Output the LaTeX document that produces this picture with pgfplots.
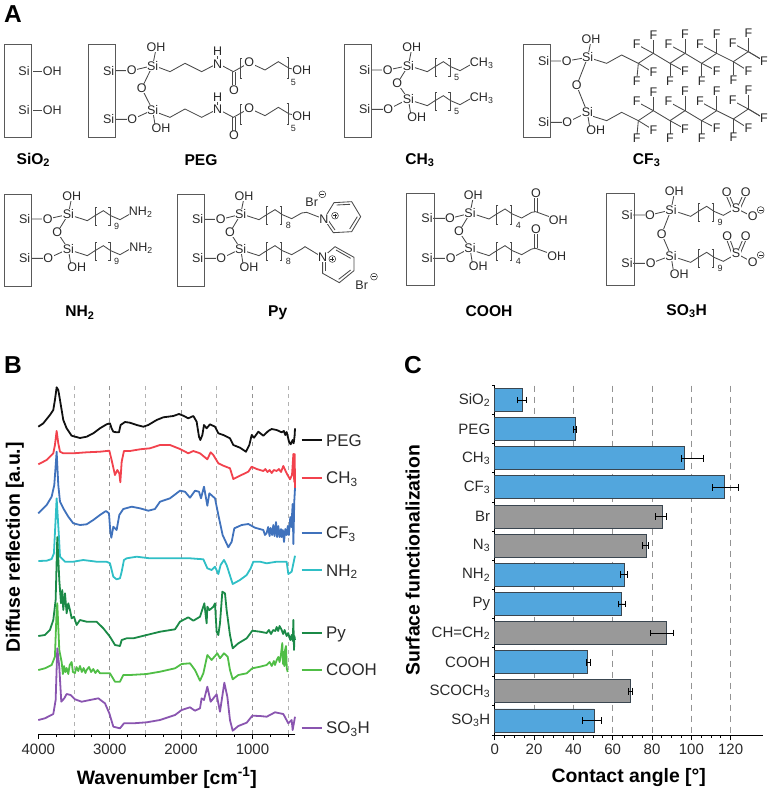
\documentclass[border=0pt]{standalone}
\usepackage{fontspec}
\setmainfont{Liberation Sans}
\usepackage{pgfplots}
\pgfplotsset{compat=1.18}
\definecolor{cPEG}{HTML}{111111}
\definecolor{cCH}{HTML}{F2424D}
\definecolor{cCF}{HTML}{4072BC}
\definecolor{cNH}{HTML}{2FBFC6}
\definecolor{cPy}{HTML}{1B8A47}
\definecolor{cCOOH}{HTML}{50BE46}
\definecolor{cSO}{HTML}{8A55B0}
\definecolor{barblue}{HTML}{52A6DD}
\definecolor{bargray}{HTML}{999999}
\definecolor{baredge}{HTML}{3A4650}
\definecolor{ink}{HTML}{2A2A2A}
\newcommand{\fs}[1]{\fontsize{#1}{#1}\selectfont}
\tikzset{bd/.style={line width=0.85pt,draw=ink!85},
  atm/.style={fill=white,inner sep=0.4pt,text=ink,font=\fs{12.5}},
  lab/.style={font=\fs{15.6}\bfseries,text=black},
  boxs/.style={line width=1pt,draw=black!65}}
\def\boxtop{135}
\newcommand{\SBox}[1]{\draw[boxs] (#1,\boxtop) rectangle (#1+82,\boxtop+277);}
\newcommand{\core}[9]{%
 \draw[bd] (#1+61,#2)--(#1+130,#2)--(#4,#5)--(#6,#7)--(#8,#9)--(#1+132,#3)--(#1+61,#3);
 \draw[bd] (#4,#5)--(#4+10,#5-50);
 \draw[bd] (#8,#9)--(#8+8,#9+50);
 \node[atm] at (#1+61,#2) {Si};
 \node[atm] at (#1+61,#3) {Si};
 \node[atm] at (#1+130,#2) {O};
 \node[atm] at (#1+132,#3) {O};
 \node[atm] at (#4,#5) {Si};
 \node[atm] at (#8,#9) {Si};
 \node[atm] at (#6,#7) {O};
 \node[atm] at (#4+10,#5-55) {OH};
 \node[atm] at (#8+25,#9+55) {OH};
 \SBox{#1}}
\newcommand{\brk}[4]{\draw[bd] (#1+#4,#2)--(#1,#2)--(#1,#3)--(#1+#4,#3);}
\newcommand{\alk}[3]{%
 \draw[bd] (#1,#2)--++(37,12)--++(23,-15)--++(25,-15)--++(22,15)--++(28,12)--++(30,-17);
 \brk{#1+60}{#2-28}{#2+27}{5}
 \brk{#1+105}{#2-28}{#2+27}{-5}
 \node[font=\fs{9},text=ink,inner sep=0pt] at (#1+125,#2+30) {#3};}
\newcommand{\chg}[3]{%
 \draw[line width=0.5pt,draw=ink] (#1,#2) circle [radius=3.4pt];
 \draw[line width=0.5pt,draw=ink] (#1-6,#2)--(#1+6,#2);
 \ifnum#3=1 \draw[line width=0.5pt,draw=ink] (#1,#2-6)--(#1,#2+6);\fi}
\newcommand{\dbl}[4]{\draw[bd] (#1-5,#2)--(#3-5,#4); \draw[bd] (#1+5,#2)--(#3+5,#4);}
\newcommand{\pegchain}[1]{\begin{scope}[shift={(0,#1)}]
 \draw[bd] (470,200)--(510,215)--(555,190)--(605,215)--(653,190)--(700,215)--(748,188)--(795,210)--(835,185)--(868,205)--(905,212);
 \draw[bd] (653,190)--(653,155);
 \dbl{701}{215}{701}{270}
 \brk{722}{175}{235}{5}
 \brk{865}{172}{235}{-5}
 \node[atm] at (653,192) {N};
 \node[atm] at (653,155) {H};
 \node[atm] at (702,270) {O};
 \node[atm] at (748,188) {O};
 \node[atm] at (905,212) {OH};
 \node[font=\fs{9},text=ink,inner sep=0pt] at (880,248) {5};
 \end{scope}}
\newcommand{\cfc}[1]{\begin{scope}[shift={(0,#1)}]
 \draw[bd] (743,172)--(800,190)--(845,165)--(895,190)--(940,160)--(990,190)--(1035,160)--(1085,190)--(1130,160)--(1180,185)--(1225,155)--(1272,183);
 \foreach \cx/\cy/\fx/\fy in {895/190/890/243,895/190/940/218,940/160/940/105,940/160/890/133,990/190/990/243,990/190/1035/215,1035/160/1035/103,1035/160/985/133,1085/190/1085/243,1085/190/1130/213,1130/160/1130/103,1130/160/1080/133,1180/185/1180/240,1180/185/1225/213,1225/155/1225/100,1225/155/1178/130,1225/155/1272/183}{%
  \draw[bd] (\cx,\cy)--(\fx,\fy); \node[atm] at (\fx,\fy) {F};}
 \end{scope}}
\begin{document}
\begin{tikzpicture}
\useasboundingbox (0pt,0pt) rectangle (772pt,-792pt);
% ---------- panel letters
\begin{scope}[x=1pt,y=-1pt]
 \foreach \ltr/\xx/\yy in {A/4/23,B/4/373,C/404/373}{\node[anchor=base west,inner sep=0pt,font=\fs{24.5}\bfseries] at (\xx,\yy) {\ltr};}
\end{scope}
% ---------- panel A, first row left
\begin{scope}[x=0.33333pt,y=-0.33333pt]
 \draw[bd] (100,213)--(125,213); \draw[bd] (100,330)--(125,330);
 \node[atm] at (72,213) {Si}; \node[atm] at (72,330) {Si};
 \node[atm] at (157,213) {OH}; \node[atm] at (157,330) {OH};
 \SBox{13}
 \node[lab] at (100,480) {SiO\textsubscript{2}};
 \pegchain{0}\pegchain{137}
 \core{265}{212}{358}{458}{197}{425}{265}{458}{330}
 \node[lab] at (603,480) {PEG};
\end{scope}
% ---------- first row right
\begin{scope}[shift={(340pt,0pt)},x=0.33333pt,y=-0.33333pt]
 \alk{225}{203}{5}\alk{225}{305}{5}
 \node[atm] at (425,190) {CH\textsubscript{3}};
 \node[atm] at (425,295) {CH\textsubscript{3}};
 \core{13}{210}{328}{205}{197}{172}{250}{205}{297}
 \node[lab] at (240,480) {CH\textsubscript{3}};
 \cfc{0}\cfc{172}
 \core{550}{183}{367}{743}{172}{710}{257}{742}{337}
 \node[lab] at (920,480) {CF\textsubscript{3}};
\end{scope}
% ---------- second row left
\begin{scope}[shift={(0pt,-180pt)},x=0.33333pt,y=-0.33333pt]
 \def\boxtop{42}
 \alk{225}{110}{9}\alk{225}{215}{9}
 \node[atm] at (422,97) {NH\textsubscript{2}};
 \node[atm] at (423,205) {NH\textsubscript{2}};
 \core{13}{117}{235}{205}{103}{172}{157}{205}{207}
 \node[lab] at (240,397) {NH\textsubscript{2}};
 \alk{740}{107}{8}\alk{740}{215}{8}
 \draw[bd] (905,99)--(920,97)--(972,117);
 \draw[bd] (905,207)--(915,200)--(968,232);
 \draw[bd] (972,117)--(1002,68)--(1055,65)--(1082,110)--(1055,155)--(1000,158)--cycle;
 \draw[bd] (1010,75)--(1050,73); \draw[bd] (1072,110)--(1049,147); \draw[bd] (1005,150)--(982,117);
 \draw[bd] (968,232)--(1005,200)--(1062,232)--(1062,272)--(1018,308)--(968,280)--cycle;
 \draw[bd] (1008,210)--(1052,235); \draw[bd] (1052,270)--(1016,298); \draw[bd] (977,273)--(977,245);
 \node[atm] at (972,117) {N}; \node[atm] at (968,232) {N};
 \chg{1005}{107}{1}\chg{997}{237}{1}
 \node[atm,fill=none] at (935,67) {Br}; \chg{967}{43}{0}
 \node[atm,fill=none] at (1085,315) {Br}; \chg{1122}{290}{0}
 \core{532}{118}{235}{722}{103}{690}{157}{722}{207}
 \node[lab] at (833,397) {Py};
\end{scope}
% ---------- second row right
\begin{scope}[shift={(390pt,-180pt)},x=0.33333pt,y=-0.33333pt]
 \def\boxtop{40}
 \alk{260}{105}{4}\alk{260}{215}{4}
 \draw[bd] (425,97)--(437,95)--(505,120); \dbl{438}{95}{438}{40}
 \draw[bd] (425,207)--(437,205)--(500,228); \dbl{438}{205}{438}{147}
 \node[atm] at (438,40) {O}; \node[atm] at (505,120) {OH};
 \node[atm] at (438,147) {O}; \node[atm] at (500,228) {OH};
 \core{50}{115}{235}{240}{100}{207}{155}{240}{205}
 \node[lab] at (297,393) {COOH};
 \alk{865}{97}{9}\alk{865}{235}{9}
 \draw[bd] (1030,89)--(1038,85)--(1088,110); \dbl{1030}{85}{1010}{38}\dbl{1046}{85}{1067}{38}
 \draw[bd] (1030,227)--(1038,220)--(1088,247); \dbl{1030}{220}{1012}{170}\dbl{1046}{220}{1067}{170}
 \foreach \aa/\bb/\cc in {1038/85/S,1010/38/O,1067/38/O,1088/110/O,1038/220/S,1012/170/O,1067/170/O,1088/247/O}{\node[atm] at (\aa,\bb) {\cc};}
 \chg{1112}{90}{0}\chg{1112}{225}{0}
 \core{650}{105}{250}{843}{90}{815}{162}{843}{227}
 \node[lab] at (890,393) {SO\textsubscript{3}H};
\end{scope}
% ---------- panel B
\begin{axis}[at={(38.3pt,-734pt)},anchor=south west,scale only axis,width=257pt,height=349pt,
 x dir=reverse,xmin=400,xmax=4000,ymin=0,ymax=349,
 axis x line=bottom,axis y line=left,y axis line style={draw=none},
 axis line style={-,line width=0.8pt,black},ytick=\empty,
 xtick={4000,3000,2000,1000},minor xtick={3750,3500,3250,2750,2500,2250,1750,1500,1250,750,500},
 xticklabels={4000,3000,2000,1000},
 tick align=outside,major tick length=5pt,minor tick length=3pt,
 tick style={line width=0.8pt,black},
 tick label style={font=\fs{15},text=ink},
 /pgf/number format/assume math mode=true,
 xticklabel style={yshift=-1pt},
 xlabel={Wavenumber [cm\textsuperscript{-1}]},
 xlabel style={font=\fs{19.4}\bfseries,at={(axis description cs:0.5,0)},anchor=base,yshift=-50pt},
 ylabel={Diffuse reflection [a.u.]},
 ylabel style={font=\fs{19.4}\bfseries,at={(axis description cs:0,0.535)},anchor=base,yshift=18.5pt},
 unbounded coords=jump,clip=false]
\addplot[gray!60,line width=0.7pt,dash pattern=on 4pt off 4pt,forget plot] coordinates {(3500,0)(3500,349)(nan,nan)(2500,0)(2500,349)(nan,nan)(1500,0)(1500,349)(nan,nan)(500,0)(500,349)};
\addplot[gray!85,line width=0.9pt,dash pattern=on 4pt off 4pt,forget plot] coordinates {(3000,0)(3000,349)(nan,nan)(2000,0)(2000,349)(nan,nan)(1000,0)(1000,349)};
\addplot[cPEG,line width=1.8pt,line join=round] coordinates {(4000,307.3)(3930,310.7)(3837,319)(3790,324)(3767,334)(3743,346.7)(3720,344)(3696,334)(3650,314)(3603,305.7)(3533,298.3)(3416,296)(3323,297.3)(3230,300.7)(3136,305.7)(3043,309.7)(2996,310.7)(2973,305.7)(2949,302.3)(2903,301.7)(2870,301.7)(2847,309)(2786,312)(2716,311.3)(2622,309)(2529,307.3)(2459,309)(2342,314)(2249,316.7)(2109,318)(2029,320)(1969,318.3)(1899,315.7)(1828,318)(1782,312.3)(1749,297.3)(1730,294)(1702,299)(1679,309)(1642,305.7)(1595,309.7)(1525,307.3)(1478,300.7)(1408,299)(1315,295.7)(1268,289)(1175,286.3)(1091,282.3)(1044,289)(1011,299)(978,296.3)(918,302.3)(848,298.3)(778,303)(731,305)(661,304)(591,301.7)(560,303)(540,299)(521,302)(488,292.3)(465,289.7)(437,294)(423,290.7)(410,298)(404,305.7)};
\addplot[cCH,line width=1.8pt,line join=round] coordinates {(4000,269.7)(3883,274)(3790,280.7)(3767,289)(3743,303)(3720,290.7)(3696,282.3)(3650,280.7)(3510,280.7)(3323,281.7)(3136,282.3)(3005,283.3)(2973,274)(2926,259)(2893,264)(2865,260.7)(2851,251.7)(2832,272.3)(2800,283)(2716,283)(2576,284.7)(2436,285.7)(2295,289)(2155,289)(2015,285)(1899,280.7)(1828,283)(1735,280.7)(1632,274.7)(1586,281.7)(1548,279)(1478,270.7)(1408,268.3)(1315,265.7)(1268,255)(1175,258.3)(1058,262.3)(1011,267.3)(941,265)(848,263)(820,265)(790,262)(760,264)(730,261)(700,264)(661,263)(630,265)(600,262)(568,268)(521,260.7)(474,254.7)(446,259)(427,280)(415,252)(408,280)(404,246)};
\addplot[cCF,line width=1.8pt,line join=round] coordinates {(4000,220.7)(3883,229)(3813,237.3)(3776,249)(3743,282.3)(3720,249)(3696,232.3)(3650,225.7)(3580,217.3)(3510,210.7)(3416,209)(3323,209.7)(3230,214)(3136,219)(3052,223)(3010,220.7)(2991,202.3)(2977,196.3)(2949,207.3)(2903,204)(2865,219)(2809,225)(2692,227.3)(2576,225.7)(2459,223.3)(2366,225)(2295,232.3)(2155,235.7)(2015,243.3)(1945,242.3)(1875,236.3)(1805,243.3)(1749,242.3)(1721,235.7)(1679,247.3)(1632,228.3)(1604,240.7)(1525,235.7)(1478,219)(1418,199)(1338,186.7)(1291,192.3)(1254,205.7)(1151,209)(1058,210)(965,206.3)(848,204)(825,199)(801,201)(780,207)(760,198)(745,206)(725,199)(708,209)(690,198)(670,212)(655,197)(638,208)(620,197)(600,205)(591,197)(575,204)(558,192)(540,205)(521,199)(505,208)(490,199)(470,217)(455,207)(437,230)(427,190)(414,233)(404,246)};
\addplot[cNH,line width=1.8pt,line join=round] coordinates {(4000,173)(3883,173.3)(3813,175)(3781,180.7)(3743,235.7)(3715,202.3)(3696,177.3)(3626,172.3)(3510,172.3)(3370,174)(3183,172.3)(3043,172.3)(2996,170.7)(2949,157.3)(2903,154.7)(2856,155.7)(2832,162.3)(2800,174)(2762,175.7)(2622,177.3)(2436,175.7)(2202,175.7)(2015,175.7)(1875,175.7)(1688,174.7)(1632,165.7)(1572,164)(1525,167.3)(1478,160)(1446,169)(1399,174)(1362,169)(1277,150)(1175,154)(1081,159)(1025,165.7)(988,172.3)(894,172.3)(801,170.7)(661,172.3)(521,172.3)(498,160)(451,162.3)(404,178.3)};
\addplot[cPy,line width=1.8pt,line join=round] coordinates {(4000,98)(3907,99)(3837,104)(3790,114)(3757,134)(3734,197)(3706,154)(3682,130.7)(3664,144)(3650,124)(3626,140.7)(3603,120.7)(3580,130.7)(3556,124)(3533,115.7)(3500,117.3)(3463,109)(3416,114)(3323,112.3)(3183,112.3)(3089,105.7)(2996,97.3)(2926,89)(2856,88)(2832,94)(2762,95.7)(2669,95.7)(2482,99)(2295,102.3)(2085,104.7)(2015,112.3)(1899,116.7)(1828,113.3)(1735,117.3)(1674,130.7)(1642,110.7)(1632,127.3)(1604,124)(1572,125.7)(1548,127.3)(1525,130.7)(1502,102.3)(1478,99)(1455,110.7)(1422,142.3)(1385,140.7)(1362,124)(1315,99)(1277,85.7)(1198,90.7)(1081,95.7)(1002,103.3)(894,102.3)(801,101)(770,104)(740,100)(710,104)(680,103)(661,107)(640,103)(620,108)(591,104)(570,100)(550,104)(521,98)(500,101)(470,94)(451,99)(435,93)(427,114)(418,84)(412,98)(404,94)};
\addplot[cCOOH,line width=1.8pt,line join=round] coordinates {(4000,64)(3907,65.7)(3813,69)(3767,77.3)(3743,124)(3734,130.7)(3706,84)(3673,72)(3655,60)(3640,68)(3620,62)(3603,66)(3580,60)(3560,69)(3533,72)(3515,62)(3486,61)(3465,67)(3440,63)(3416,68)(3390,62)(3365,66)(3340,61)(3323,64)(3290,67)(3260,62)(3230,65)(3200,61)(3170,64)(3136,60.7)(2996,60.7)(2926,52.3)(2856,52.3)(2809,59)(2716,59)(2482,60)(2295,62.3)(2085,65.7)(1992,70)(1875,70.7)(1805,64)(1735,53.3)(1688,60.7)(1632,79)(1572,74)(1492,80.7)(1455,75.7)(1399,80.7)(1347,77.3)(1315,64)(1277,54.7)(1198,59)(1081,60.7)(1002,65.7)(894,67.3)(801,69)(760,72)(730,68)(700,73)(684,69)(660,74)(638,77)(620,72)(600,80)(582,91)(572,70)(562,82)(553,68)(543,84)(530,88)(520,66)(507,62)};
\addplot[cSO,line width=1.8pt,line join=round] coordinates {(4000,14)(3907,15.7)(3790,20)(3757,34)(3734,85.7)(3706,67.3)(3678,32.3)(3636,35.7)(3603,40)(3547,39)(3486,34.7)(3393,32.3)(3276,34)(3159,35.7)(3066,30.7)(3005,20.7)(2949,7.3)(2856,5.7)(2800,10.7)(2669,10.7)(2482,11.7)(2295,14)(2085,19)(1992,24)(1875,26.7)(1805,23.3)(1735,25.7)(1712,35.7)(1679,34)(1632,47.3)(1586,32.3)(1502,39.7)(1455,22.3)(1394,51.3)(1352,37.3)(1315,14)(1277,3.3)(1198,8)(1081,11.3)(1002,18.3)(894,18)(801,17.3)(684,21.7)(568,20)(498,10.7)(451,14)(437,4)(404,17.3)};
\end{axis}
% legend of panel B
\begin{scope}[x=1pt,y=-1pt]
 \foreach \cc/\tt/\yy in {cPEG/PEG/440,cCH/{CH\textsubscript{3}}/477.7,cCF/{CF\textsubscript{3}}/532.7,cNH/{NH\textsubscript{2}}/570,cPy/Py/632.7,cCOOH/COOH/669.8,cSO/{SO\textsubscript{3}H}/727.8}{%
  \draw[color=\cc,line width=1.8pt] (301.7,\yy)--(321.7,\yy);
  \node[anchor=base west,inner sep=0pt,font=\fs{16.9},text=ink] at (326,\yy+6) {\tt};}
\end{scope}
% ---------- panel C
\begin{axis}[at={(494.7pt,-735pt)},anchor=south west,scale only axis,width=268pt,height=349.5pt,
 xmin=0,xmax=136.3,ymin=-0.5,ymax=11.5,y dir=reverse,
 axis x line=bottom,axis y line=left,axis line style={-,line width=0.8pt,black},
 xtick={0,20,...,120},minor x tick num=3,
 ytick={0,...,11},
 yticklabels={SiO\textsubscript{2},PEG,CH\textsubscript{3},CF\textsubscript{3},Br,N\textsubscript{3},NH\textsubscript{2},Py,CH=CH\textsubscript{2},COOH,SCOCH\textsubscript{3},SO\textsubscript{3}H},
 minor ytick={-0.5,0.5,...,11.5},
 major y tick style={draw=none},
 tick align=outside,major tick length=5pt,minor tick length=2.5pt,
 tick style={line width=0.8pt,black},
 tick label style={font=\fs{15},text=ink},
 /pgf/number format/assume math mode=true,
 yticklabel style={xshift=4pt},
 xmajorgrids,grid style={gray!85,line width=0.8pt,dash pattern=on 6pt off 5pt},
 xlabel={Contact angle [°]},
 xlabel style={font=\fs{19.4}\bfseries,at={(axis description cs:0.5,0)},anchor=base,yshift=-47.5pt},
 ylabel={Surface functionalization},
 ylabel style={font=\fs{19.4}\bfseries,at={(axis description cs:0,0.5)},anchor=base,yshift=75pt},
 xbar,bar width=23pt,bar shift=0pt,clip=false,
 error bars/x dir=both,error bars/x explicit,
 error bars/error bar style={line width=0.8pt,black},
 error bars/error mark options={rotate=90,line width=0.8pt,black,mark size=3.4pt}]
\addplot[fill=barblue,draw=baredge,line width=0.9pt] coordinates {
 (14.1,0) += (1.8,0) -= (2.6,0)
 (41,1) += (0.3,0) -= (0.8,0)
 (96.6,2) += (9.7,0) -= (1.7,0)
 (116.9,3) += (7.1,0) -= (6.2,0)
 (66.1,6) += (1.4,0) -= (2,0)
 (64.6,7) += (1.7,0) -= (1.9,0)
 (47.1,9) += (1.4,0) -= (0.5,0)
 (50.5,11) += (3.7,0) -= (5.9,0)};
\addplot[fill=bargray,draw=baredge,line width=0.9pt] coordinates {
 (85.1,4) += (2,0) -= (3.2,0)
 (77.3,5) += (1,0) -= (2.4,0)
 (87.1,8) += (3.7,0) -= (8.1,0)
 (69.1,10) += (0.9,0) -= (1.1,0)};
\end{axis}
\end{tikzpicture}
\end{document}
